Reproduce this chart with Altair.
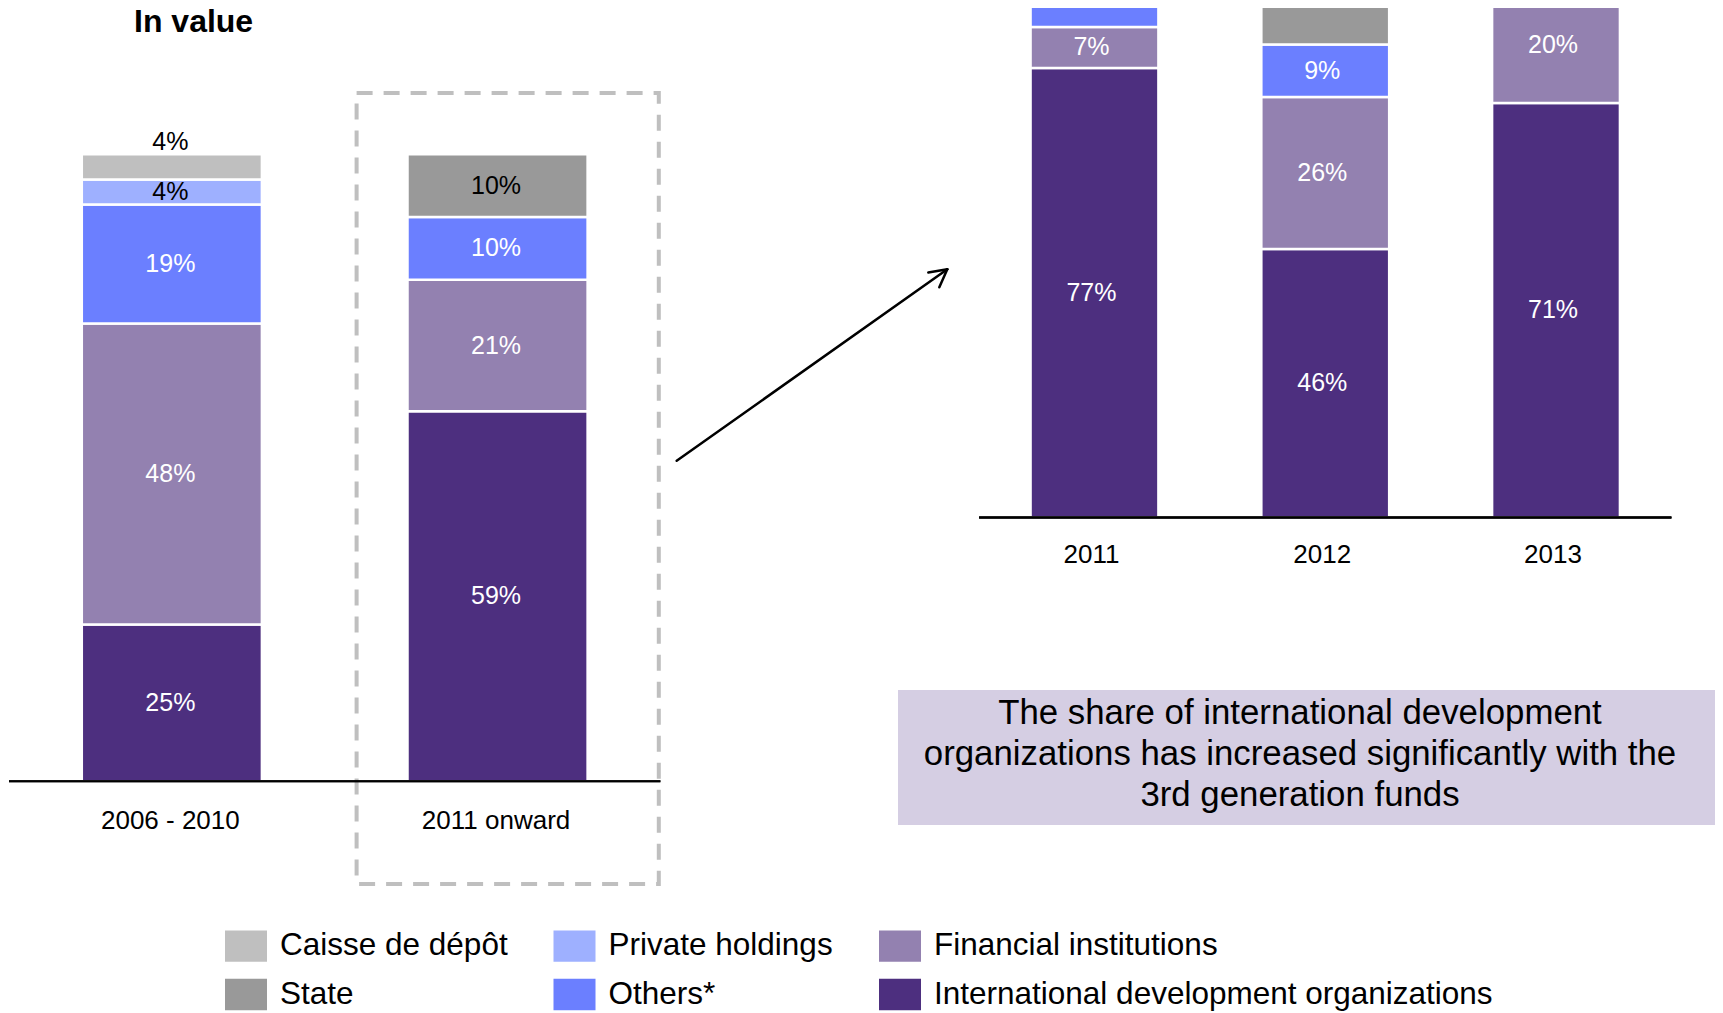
import altair as alt
import pandas as pd

FONT = "Liberation Sans, Arial, Helvetica, sans-serif"
W, H = 1707, 1005

# ---------------- data ----------------
stack_order = ["International development organizations", "Financial institutions",
               "Others*", "Private holdings", "State", "Caisse de dépôt"]
# legend is filled column by column (2 rows x 3 columns)
legend_order = ["Caisse de dépôt", "State", "Private holdings", "Others*",
                "Financial institutions", "International development organizations"]
legend_colors = ["#BFBFBF", "#999999", "#9EB0FF", "#6B7FFF", "#9381B0", "#4D2F7F"]

left_periods = ["2006 - 2010", "2011 onward"]
left_ido = [25, 59]
left_fin = [48, 21]
left_oth = [19, 10]
left_priv = [4, 0]
left_state = [0, 10]
left_caisse = [4, 0]

right_years = ["2011", "2012", "2013"]
right_ido = [77, 46, 71]
right_fin = [7, 26, 20]
right_oth = [10, 9, 5]
right_priv = [0, 0, 0]
right_state = [6, 19, 4]
right_caisse = [0, 0, 0]

title_text = "In value"
note_lines = ["The share of international development",
              "organizations has increased significantly with the",
              "3rd generation funds"]


def to_long(periods, series):
    rows = []
    for src, vals in zip(stack_order, series):
        for p, v in zip(periods, vals):
            if v > 0:
                rows.append({"period": p, "source": src, "share": v,
                             "order": stack_order.index(src), "label": f"{v}%"})
    return pd.DataFrame(rows)


left_df = to_long(left_periods, [left_ido, left_fin, left_oth, left_priv, left_state, left_caisse])
right_df = to_long(right_years, [right_ido, right_fin, right_oth, right_priv, right_state, right_caisse])

color = alt.Color(
    "source:N",
    scale=alt.Scale(domain=legend_order, range=legend_colors),
    legend=alt.Legend(
        title=None, orient="none", legendX=217, legendY=917, columns=3,
        symbolType="M-1,-0.745H1V0.745H-1Z", symbolSize=1764, symbolStrokeWidth=0,
        symbolOpacity=1, labelFont=FONT, labelFontSize=31.5, labelColor="black",
        labelOffset=13, labelLimit=2000, columnPadding=45.5, rowPadding=11.5, padding=0,
    ),
)

dark_sources = ["International development organizations", "Financial institutions", "Others*"]
light_sources = ["Private holdings", "State"]


def panel(df, periods, xr, pin, yr, label_dy, clip, above_sources, dx, max_mid):
    xs = alt.Scale(domain=periods, range=xr, paddingInner=pin, paddingOuter=pin / 2)
    ys = alt.Scale(domain=[0, 100], range=yr, nice=False, zero=False)
    x = alt.X("period:N", scale=xs, axis=None)

    base = alt.Chart(df).transform_stack(
        stack="share", groupby=["period"], as_=["y0", "y1"],
        sort=[alt.SortField("order", order="ascending")],
    ).transform_calculate(mid="(datum.y0 + datum.y1) / 2")
    lbl_base = base.transform_filter(alt.datum.mid < max_mid)

    bars = base.mark_bar(stroke="white", strokeWidth=2.5, clip=clip).encode(
        x=x, y=alt.Y("y0:Q", scale=ys, axis=None), y2="y1:Q", color=color
    )
    white_lbl = lbl_base.transform_filter(
        alt.FieldOneOfPredicate(field="source", oneOf=dark_sources)
    ).mark_text(color="white", fontSize=25, font=FONT, dx=dx, clip=clip).encode(
        x=x, y=alt.Y("mid:Q", scale=ys, axis=None), text="label:N"
    )
    black_lbl = lbl_base.transform_filter(
        alt.FieldOneOfPredicate(field="source", oneOf=light_sources)
    ).mark_text(color="black", fontSize=25, font=FONT, dx=dx, clip=clip).encode(
        x=x, y=alt.Y("mid:Q", scale=ys, axis=None), text="label:N"
    )
    layers = [bars, white_lbl, black_lbl]
    if above_sources:
        above_lbl = lbl_base.transform_filter(
            alt.FieldOneOfPredicate(field="source", oneOf=above_sources)
        ).mark_text(color="black", fontSize=25, font=FONT, dx=dx, dy=-12).encode(
            x=x, y=alt.Y("y1:Q", scale=ys, axis=None), text="label:N"
        )
        layers.append(above_lbl)

    base_df = pd.DataFrame({"period": periods, "v": [0] * len(periods)})
    rule = alt.Chart(base_df).mark_rule(color="black", strokeWidth=2).encode(
        x=alt.value(xr[0]), x2=alt.value(xr[1]), y=alt.Y("v:Q", scale=ys, axis=None)
    )
    cats = alt.Chart(base_df).mark_text(
        color="black", fontSize=26, font=FONT, dy=label_dy, dx=dx
    ).encode(x=x, y=alt.Y("v:Q", scale=ys, axis=None), text="period:N")
    layers += [rule, cats]
    return alt.layer(*layers)


left = panel(left_df, left_periods, [1, 652.4], 0.447, [773.3, 146.3], 40, False,
             ["Caisse de dépôt"], -1.5, 101)
right = panel(right_df, right_years, [971.1, 1663.4], 0.446, [509.6, -74.4], 37, True,
              [], -3, 86)

one = pd.DataFrame({"a": [0]})

dashed = alt.Chart(one).mark_rect(
    fillOpacity=0, stroke="#BFBFBF", strokeWidth=4, strokeDash=[16, 11]
).encode(x=alt.value(348.6), x2=alt.value(650.8), y=alt.value(84.9), y2=alt.value(876))

arrow_line = alt.Chart(one).mark_rule(color="black", strokeWidth=2.5, strokeCap="round").encode(
    x=alt.value(668.7), y=alt.value(452.7), x2=alt.value(939.3), y2=alt.value(261.3))
arrow_h1 = alt.Chart(one).mark_rule(color="black", strokeWidth=2.5, strokeCap="round").encode(
    x=alt.value(939.3), y=alt.value(261.3), x2=alt.value(920.3), y2=alt.value(264.6))
arrow_h2 = alt.Chart(one).mark_rule(color="black", strokeWidth=2.5, strokeCap="round").encode(
    x=alt.value(939.3), y=alt.value(261.3), x2=alt.value(931.3), y2=alt.value(279.3))

box = alt.Chart(one).mark_rect(fill="#D5CEE3").encode(
    x=alt.value(890), x2=alt.value(1713), y=alt.value(682), y2=alt.value(817))
box_text = alt.Chart(one).mark_text(
    text=note_lines, fontSize=34.8, font=FONT, color="black", align="center",
    baseline="middle", lineHeight=41,
).encode(x=alt.value(1292), y=alt.value(706))

title = alt.Chart(one).mark_text(
    text=title_text, fontSize=32, fontWeight="bold", font=FONT, color="black",
    align="left", baseline="alphabetic",
).encode(x=alt.value(126), y=alt.value(24))

chart = alt.layer(
    dashed, left, right, arrow_line, arrow_h1, arrow_h2, box, box_text, title
).resolve_scale(x="independent", y="independent").properties(
    width=W, height=H, padding=0, autosize=alt.AutoSizeParams(type="none"),
    background="white",
).configure_view(strokeWidth=0)

chart.save("out.html", embed_options={"renderer": "svg", "actions": False})
